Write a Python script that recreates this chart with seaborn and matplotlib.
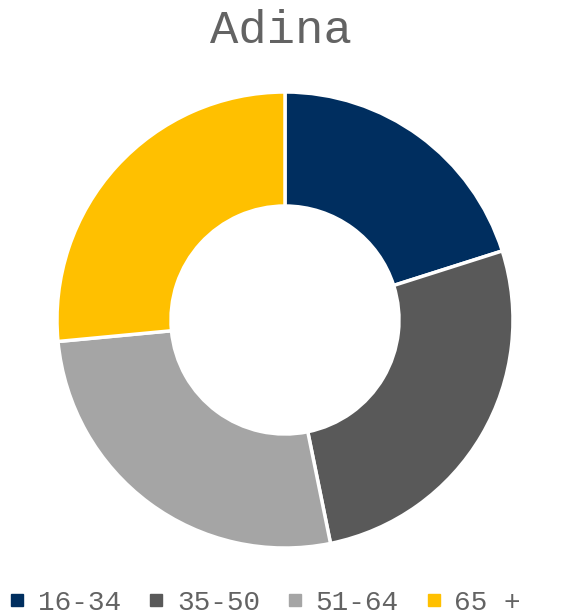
"""Donut chart of age groups for Adina."""

import matplotlib.pyplot as plt
import seaborn as sns
from matplotlib.lines import Line2D

# Data
age_groups = ["16-34", "35-50", "51-64", "65 +"]
shares = [20.1, 26.7, 26.7, 26.5]
colors = ["#002E5F", "#595959", "#A5A5A5", "#FFC000"]
title = "Adina"

sns.set_theme(style="white")
plt.rcParams["font.family"] = ["Liberation Mono", "DejaVu Sans"]

fig = plt.figure(figsize=(5.62, 6.15), dpi=100)
ax = fig.add_axes([0.1014, 0.1089, 0.8114, 0.7415])

ax.pie(
    shares,
    colors=colors,
    startangle=90,
    counterclock=False,
    radius=1.0,
    wedgeprops={"width": 0.5, "edgecolor": "white", "linewidth": 2.5},
)
ax.set_xlim(-1, 1)
ax.set_ylim(-1, 1)
ax.set_aspect("auto")
ax.axis("off")

fig.text(0.5, 1 - 31 / 615, title, ha="center", va="center",
         fontsize=34, color="#636363")

# Legend with small square markers
handles = [
    Line2D([0], [0], marker="s", linestyle="", markersize=8,
           markerfacecolor=c, markeredgecolor=c, label=g)
    for g, c in zip(age_groups, colors)
]
fig.legend(
    handles=handles,
    loc="center",
    bbox_to_anchor=(0.5 - 16 / 562, 12 / 615),
    ncol=4,
    frameon=False,
    fontsize=20,
    labelcolor="#636363",
    handlelength=0.6,
    handletextpad=0.45,
    columnspacing=0.95,
)

plt.savefig("out.png", dpi=100)
plt.close()
